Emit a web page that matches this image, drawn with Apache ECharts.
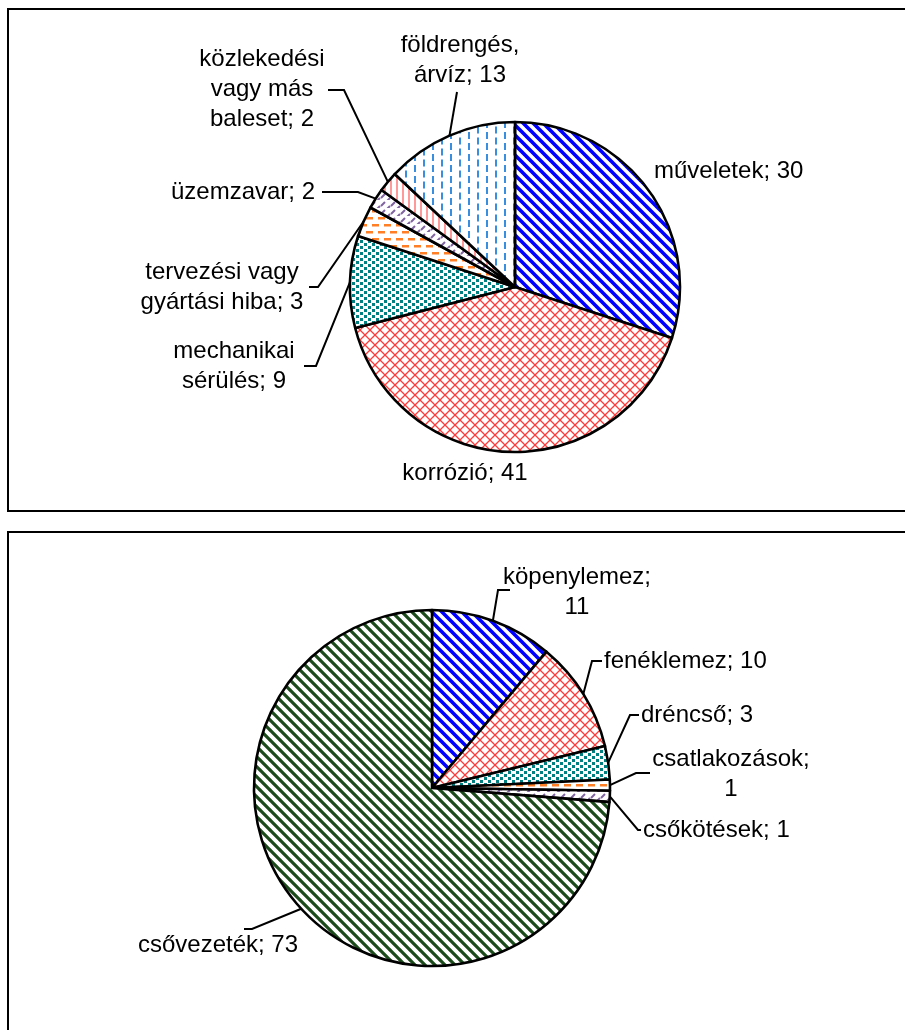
<!DOCTYPE html>
<html>
<head>
<meta charset="utf-8">
<script src="https://cdn.jsdelivr.net/npm/echarts@6/dist/echarts.min.js"></script>
<style>
  html, body { margin: 0; padding: 0; background: #fff; }
  #chart { width: 905px; height: 1030px; }
</style>
</head>
<body>
<div id="chart"></div>
<script>
// Causes of failures (upper pie)
const causeNames = ['műveletek', 'korrózió', 'mechanikai\nsérülés', 'tervezési vagy\ngyártási hiba', 'üzemzavar', 'közlekedési\nvagy más\nbaleset', 'földrengés,\nárvíz'];
const causeValues = [30, 41, 9, 3, 2, 2, 13];

// Affected tank parts (lower pie)
const partNames = ['köpenylemez', 'fenéklemez', 'dréncső', 'csatlakozások', 'csőkötések', 'csővezeték'];
const partValues = [11, 10, 3, 1, 1, 73];

// Labels whose value goes onto its own line
const valueOnNewLine = ['köpenylemez', 'csatlakozások'];

// ---- hatch fills drawn on small repeating canvas tiles ----
function tile(w, h, draw) {
  const c = document.createElement('canvas');
  c.width = w; c.height = h;
  const g = c.getContext('2d');
  g.fillStyle = '#fff';
  g.fillRect(0, 0, w, h);
  draw(g, w, h);
  return { image: c, repeat: 'repeat' };
}
// diagonal strokes repeated so the tile wraps seamlessly
function diagLines(g, w, h, dir, color, width) {
  g.strokeStyle = color;
  g.lineWidth = width;
  g.beginPath();
  for (let k = -1; k <= 1; k++) {
    for (let m = -1; m <= 1; m++) {
      const ox = k * w, oy = m * h;
      if (dir > 0) { g.moveTo(ox, oy); g.lineTo(ox + w, oy + h); }     // "\" direction
      else { g.moveTo(ox, oy + h); g.lineTo(ox + w, oy); }            // "/" direction
    }
  }
  g.stroke();
}
const wideDiagonal = (color, width) => tile(10, 10, (g, w, h) => diagLines(g, w, h, 1, color, width));
const diagCross = color => tile(10, 10, (g, w, h) => { diagLines(g, w, h, 1, color, 1.3); diagLines(g, w, h, -1, color, 1.3); });
const dots = color => tile(8, 6, g => { g.fillStyle = color; g.fillRect(0, 0, 3, 3); g.fillRect(4, 3, 3, 3); });
const hDashes = color => tile(12, 14, g => { g.fillStyle = color; g.fillRect(0, 0, 7, 2.5); g.fillRect(6, 7, 7, 2.5); g.fillRect(-6, 7, 7, 2.5); });
const diagDashes = color => tile(10, 8, g => {
  g.strokeStyle = color; g.lineWidth = 2; g.beginPath();
  g.moveTo(1, 6); g.lineTo(5, 2);
  g.moveTo(6, 10); g.lineTo(10, 6); g.moveTo(-4, 10); g.lineTo(0, 6);
  g.stroke();
});
const vLines = color => tile(6, 1, g => { g.fillStyle = color; g.fillRect(0, 0, 2, 1); });
const vDashes = color => tile(18, 11, g => {
  g.fillStyle = color;
  g.fillRect(0, 0, 2, 7);
  g.fillRect(9, 5.5, 2, 7); g.fillRect(9, -5.5, 2, 7);
});

const fills = {
  blue: wideDiagonal('#0000ff', 3.6),
  red: diagCross('#ff3c3c'),
  teal: dots('#008080'),
  orange: hDashes('#ff7f27'),
  purple: diagDashes('#8064a2'),
  pink: vLines('#ff9a9a'),
  sky: vDashes('#3a8ee0'),
  green: wideDiagonal('#1b4a1b', 3.2)
};
const causeFills = [fills.blue, fills.red, fills.teal, fills.orange, fills.purple, fills.pink, fills.sky];
const partFills = [fills.blue, fills.red, fills.teal, fills.orange, fills.purple, fills.green];

// ---- label placement: text anchor and leader-line bends ----
const causeLabelPlaces = [
  { x: 654, y: 171, align: 'left' },
  { x: 465, y: 473, align: 'center' },
  { x: 234, y: 366, align: 'center', bends: [[316, 366], [304, 366]] },
  { x: 222, y: 287, align: 'center', bends: [[318, 287], [309, 287]] },
  { x: 243, y: 192, align: 'center', bends: [[358, 192], [322, 192]] },
  { x: 262, y: 89, align: 'center', bends: [[344, 90], [328, 90]] },
  { x: 460, y: 60, align: 'center', bends: [[457, 92]] }
];
const partLabelPlaces = [
  { x: 577, y: 592, align: 'center', bends: [[498, 590], [510, 590]] },
  { x: 604, y: 661, align: 'left', bends: [[592, 661], [602, 661]] },
  { x: 641, y: 715, align: 'left', bends: [[630, 715], [639, 715]] },
  { x: 731, y: 774, align: 'center', bends: [[636, 773], [650, 773]] },
  { x: 643, y: 830, align: 'left', bends: [[638, 830], [641, 830]] },
  { x: 218, y: 945, align: 'center', bends: [[252, 929], [244, 929]] }
];
const labelPlaces = [causeLabelPlaces, partLabelPlaces];

function makeData(names, values, fillList, places) {
  return names.map((n, i) => ({
    name: n,
    value: values[i],
    itemStyle: { color: fillList[i] },
    labelLine: { show: !!places[i].bends }
  }));
}

const labelStyle = {
  show: true,
  position: 'outside',
  color: '#000',
  fontFamily: '"Liberation Sans", Arial, sans-serif',
  fontSize: 24,
  lineHeight: 30,
  formatter: p => p.name + ';' + (valueOnNewLine.includes(p.name) ? '\n' : ' ') + p.value
};

function placeLabel(params) {
  const place = labelPlaces[params.seriesIndex][params.dataIndex];
  const out = { x: place.x, y: place.y, align: place.align, verticalAlign: 'middle' };
  if (place.bends && params.labelLinePoints) {
    out.labelLinePoints = [params.labelLinePoints[0]].concat(place.bends);
  }
  return out;
}

const pieBase = {
  type: 'pie',
  startAngle: 90,
  clockwise: true,
  avoidLabelOverlap: false,
  animation: false,
  silent: true,
  itemStyle: { borderColor: '#000', borderWidth: 2.6 },
  label: labelStyle,
  labelLine: { show: true, length: 10, length2: 10, lineStyle: { color: '#000', width: 2 } },
  labelLayout: placeLabel,
  emphasis: { disabled: true }
};

const chart = echarts.init(document.getElementById('chart'), null, { renderer: 'canvas', width: 905, height: 1030 });
chart.setOption({
  animation: false,
  backgroundColor: '#fff',
  graphic: [
    { type: 'rect', shape: { x: 8, y: 9, width: 1000, height: 502 }, style: { fill: 'none', stroke: '#000', lineWidth: 2 }, z: 0 },
    { type: 'rect', shape: { x: 8, y: 532, width: 1000, height: 600 }, style: { fill: 'none', stroke: '#000', lineWidth: 2 }, z: 0 }
  ],
  series: [
    Object.assign({}, pieBase, {
      center: [515, 287],
      radius: 165,
      data: makeData(causeNames, causeValues, causeFills, causeLabelPlaces)
    }),
    Object.assign({}, pieBase, {
      center: [432, 788],
      radius: 178,
      data: makeData(partNames, partValues, partFills, partLabelPlaces)
    })
  ]
});
</script>
</body>
</html>
